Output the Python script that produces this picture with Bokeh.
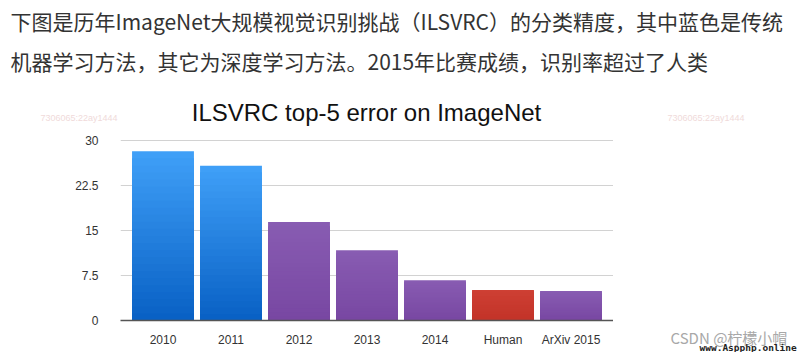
from bokeh.plotting import figure
from bokeh.layouts import column, row
from bokeh.models import Label, Range1d, FactorRange, ColumnDataSource, FixedTicker, NumeralTickFormatter
from bokeh.embed import file_html
from bokeh.resources import INLINE

# ---- data ----
categories = ["2010", "2011", "2012", "2013", "2014", "Human", "ArXiv 2015"]
errors = [28.2, 25.8, 16.4, 11.7, 6.7, 5.1, 4.9]
groups = ["traditional", "traditional", "deep", "deep", "deep", "human", "deep"]
y_ticks = [0, 7.5, 15, 22.5, 30]
title_text = "ILSVRC top-5 error on ImageNet"
caption_lines = [
    "下图是历年ImageNet大规模视觉识别挑战（ILSVRC）的分类精度，其中蓝色是传统",
    "机器学习方法，其它为深度学习方法。2015年比赛成绩，识别率超过了人类",
]
watermark_id = "7306065:22ay1444"
credit_text = "CSDN @柠檬小帽"
site_text = "www.Aspphp.online"

# (bottom colour, top colour) of each group's bar shading
group_shades = {
    "traditional": ((0x08, 0x60, 0xc4), (0x40, 0xa0, 0xf8)),
    "deep": ((0x78, 0x47, 0xa2), (0x88, 0x5c, 0xb2)),
    "human": ((0xc2, 0x33, 0x28), (0xce, 0x40, 0x34)),
}
N_SHADES = 24


def blank(w, h):
    f = figure(width=w, height=h, output_backend="svg", toolbar_location=None,
               x_axis_type=None, y_axis_type=None,
               x_range=Range1d(0, w), y_range=Range1d(0, h),
               min_border_left=0, min_border_right=0, min_border_top=0, min_border_bottom=0)
    f.outline_line_color = None
    f.grid.visible = False
    f.background_fill_color = "white"
    f.border_fill_color = "white"
    f.frame_align = False
    return f


def lab(f, x, y, text, **kw):
    f.add_layout(Label(x=x, y=y, x_units="screen", y_units="screen", text=text, **kw))


# ---- header: captions + title ----
top_h = 128
top = blank(800, top_h)
lab(top, 10, top_h - 20, caption_lines[0], text_font="Noto Sans CJK SC", text_font_size="21px",
    text_color="#333333", text_baseline="middle")
lab(top, 10, top_h - 60, caption_lines[1], text_font="Noto Sans CJK SC", text_font_size="21px",
    text_color="#333333", text_baseline="middle")
lab(top, 366, top_h - 112, title_text, text_font="Liberation Sans", text_font_size="24px",
    text_color="#111111", text_align="center", text_baseline="middle")
for wx in (40, 667):
    lab(top, wx, top_h - 117, watermark_id, text_font="Liberation Sans", text_font_size="9px",
        text_color="#f0dada", text_baseline="middle")

# ---- main chart ----
# each bar is drawn as overlapping layers from 0 up to a fraction of its value,
# tallest (lightest) first, giving a vertical gradient without seams
seg_x, seg_top, seg_color = [], [], []
for cat, val, grp in zip(categories, errors, groups):
    lo, hi = group_shades[grp]
    for k in range(N_SHADES - 1, -1, -1):
        t = (k + 0.5) / N_SHADES
        c = tuple(int(round(lo[i] + (hi[i] - lo[i]) * t)) for i in range(3))
        seg_x.append(cat)
        seg_top.append(val * (k + 1) / N_SHADES)
        seg_color.append("#%02x%02x%02x" % c)
# draw layer by layer (all bars' tallest layers first)
order = sorted(range(len(seg_x)), key=lambda i: (i % N_SHADES))
src = ColumnDataSource(dict(cat=[seg_x[i] for i in order],
                            top=[seg_top[i] for i in order],
                            color=[seg_color[i] for i in order]))

main_h = 352 - top_h
p = figure(width=613, height=main_h, output_backend="svg", toolbar_location=None,
           x_range=FactorRange(*categories, range_padding=0.125, range_padding_units="absolute"),
           y_range=Range1d(0, 30.5),
           min_border_left=120, min_border_right=0, min_border_top=9, min_border_bottom=32)
p.outline_line_color = None
p.background_fill_color = "white"
p.border_fill_color = "white"

p.vbar(x="cat", bottom=0, top="top", width=0.91, fill_color="color",
       line_color=None, source=src)

p.xgrid.grid_line_color = None
p.ygrid.ticker = FixedTicker(ticks=y_ticks)
p.ygrid.grid_line_color = "#d2d2d2"
p.ygrid.grid_line_width = 1

p.yaxis.ticker = FixedTicker(ticks=y_ticks)
p.yaxis.formatter = NumeralTickFormatter(format="0.[0]")
p.yaxis.axis_line_color = None
p.yaxis.major_tick_line_color = None
p.yaxis.minor_tick_line_color = None
p.yaxis.major_label_standoff = 16
p.xaxis.axis_line_color = "#555555"
p.xaxis.axis_line_width = 1.5
p.xaxis.major_tick_line_color = None
p.xaxis.minor_tick_line_color = None
p.xaxis.major_label_standoff = 6
for ax in (p.xaxis, p.yaxis):
    ax.major_label_text_font = "Liberation Sans"
    ax.major_label_text_font_size = "12px"
    ax.major_label_text_color = "#333333"

# ---- right side: credits ----
side = blank(800 - 613, main_h)
lab(side, 57, main_h - 209, credit_text, text_font="Noto Sans CJK SC", text_font_size="15px",
    text_color="#a8a8a8", text_baseline="middle")
lab(side, 86, main_h - 219, site_text, text_font="DejaVu Sans Mono", text_font_size="9.5px",
    text_color="#222222", text_font_style="bold", text_baseline="middle")

layout = column(top, row(p, side, spacing=0), spacing=0)
open("out.html", "w").write(file_html(layout, INLINE))
